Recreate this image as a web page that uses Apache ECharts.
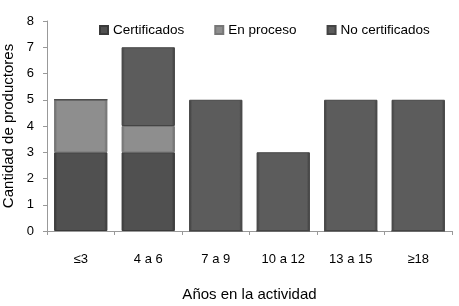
<!DOCTYPE html>
<html>
<head>
<meta charset="utf-8">
<script src="https://cdn.jsdelivr.net/npm/echarts@6/dist/echarts.min.js"></script>
<style>
  html, body { margin: 0; padding: 0; background: #fff; }
  #chart { width: 459px; height: 306px; }
</style>
</head>
<body>
<div id="chart"></div>
<script>
// años en la actividad
const categories = ['≤3', '4 a 6', '7 a 9', '10 a 12', '13 a 15', '≥18'];
const certificados = [3, 3, 0, 0, 0, 0];
const enProceso = [2, 1, 0, 0, 0, 0];
const noCertificados = [0, 3, 5, 3, 5, 5];
const yTicks = [0, 1, 2, 3, 4, 5, 6, 7, 8];

const chart = echarts.init(document.getElementById('chart'));

const font = 'Liberation Sans, Arial, sans-serif';

function shade(top, bottom) {
  return new echarts.graphic.LinearGradient(0, 0, 1, 0, [
    { offset: 0, color: bottom },
    { offset: 0.06, color: top },
    { offset: 0.94, color: top },
    { offset: 1, color: bottom }
  ]);
}

const option = {
  animation: false,
  textStyle: { fontFamily: font },
  grid: { left: 47, right: 7, top: 21, bottom: 75, outerBoundsMode: 'none' },
  legend: {
    top: 18,
    left: 94,
    icon: 'rect',
    itemWidth: 8,
    itemHeight: 8,
    itemGap: 30,
    textStyle: { fontSize: 13.5, color: '#000', fontFamily: font },
    data: ['Certificados', 'En proceso', 'No certificados']
  },
  xAxis: {
    type: 'category',
    data: categories,
    name: 'Años en la actividad',
    nameLocation: 'middle',
    nameGap: 56,
    nameTextStyle: { fontSize: 15, color: '#000', fontFamily: font },
    axisLine: { lineStyle: { color: '#999' } },
    axisTick: { show: true, length: 4, lineStyle: { color: '#999' } },
    axisLabel: { fontSize: 13, color: '#000', margin: 22 }
  },
  yAxis: {
    type: 'value',
    min: 0,
    max: 8,
    interval: 1,
    name: 'Cantidad de productores',
    nameLocation: 'middle',
    nameGap: 28,
    nameTextStyle: { fontSize: 15, color: '#000', fontFamily: font },
    axisLine: { show: true, lineStyle: { color: '#999' } },
    axisTick: { show: true, length: 4, lineStyle: { color: '#999' } },
    axisLabel: {
      fontSize: 13, color: '#000', margin: 13,
      formatter: v => yTicks.includes(v) ? String(v) : ''
    },
    splitLine: { show: false }
  },
  series: [
    {
      name: 'Certificados',
      type: 'bar',
      stack: 'total',
      barWidth: '79%',
      data: certificados,
      itemStyle: { color: shade('#505050', '#333'), borderColor: '#3a3a3a', borderWidth: 1 }
    },
    {
      name: 'En proceso',
      type: 'bar',
      stack: 'total',
      data: enProceso,
      itemStyle: { color: shade('#8e8e8e', '#666'), borderColor: '#777', borderWidth: 1 }
    },
    {
      name: 'No certificados',
      type: 'bar',
      stack: 'total',
      data: noCertificados,
      itemStyle: { color: shade('#5c5c5c', '#3c3c3c'), borderColor: '#444', borderWidth: 1 }
    }
  ]
};

chart.setOption(option);
</script>
</body>
</html>
